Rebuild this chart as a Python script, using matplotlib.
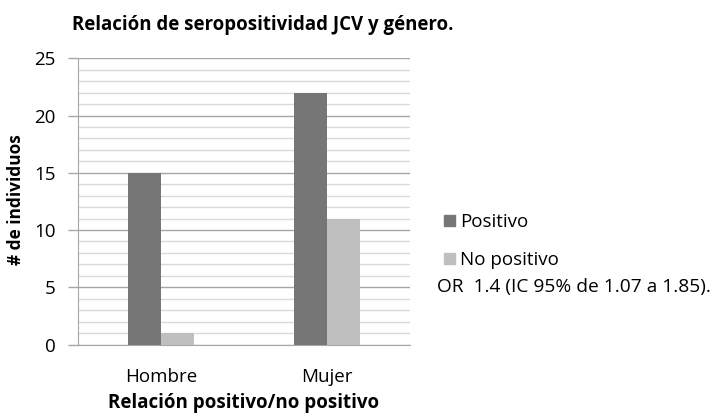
import matplotlib
matplotlib.use("Agg")
import matplotlib.pyplot as plt
from matplotlib.patches import Patch
from matplotlib.ticker import MultipleLocator
import numpy as np

categories = ["Hombre", "Mujer"]
series_names = ["Positivo", "No positivo"]
positivo = [15, 22]
no_positivo = [1, 11]
yticks = [0, 5, 10, 15, 20, 25]

title = "Relación de seropositividad JCV y género."
xlabel = "Relación positivo/no positivo"
ylabel = "# de individuos"
note = "OR  1.4 (IC 95% de 1.07 a 1.85)."

colors = ["#767676", "#bfbfbf"]

plt.rcParams['font.family'] = ['Open Sans', 'DejaVu Sans']

W, H = 719, 415
fig = plt.figure(figsize=(W/100, H/100), dpi=100)
ax = fig.add_axes([77.7/W, 1-344.5/H, (410-77.7)/W, (344.5-58.3)/H])

x = np.arange(len(categories))
bw = 0.2
ax.bar(x - bw/2, positivo, bw, color=colors[0], zorder=3)
ax.bar(x + bw/2, no_positivo, bw, color=colors[1], zorder=3)

ax.set_xlim(-0.5, 1.5)
ax.set_ylim(0, 25)
ax.set_yticks(yticks)
ax.yaxis.set_minor_locator(MultipleLocator(1))
ax.grid(axis='y', which='minor', color='#dadada', linewidth=1.0, zorder=0)
ax.grid(axis='y', which='major', color='#a6a6a6', linewidth=1.0, zorder=1)
ax.tick_params(axis='y', which='minor', length=0)
ax.tick_params(axis='y', which='major', length=7, width=1, color='#a6a6a6', labelsize=13.5, pad=9)
ax.set_xticks(x)
ax.set_xticklabels(categories)
ax.tick_params(axis='x', length=0, labelsize=13.5, pad=17)
for s in ['top', 'right']:
    ax.spines[s].set_visible(False)
ax.spines['left'].set_color('#a6a6a6')
ax.spines['bottom'].set_color('#a6a6a6')

ax.set_xlabel(xlabel, fontsize=13.5, fontweight='bold', labelpad=5)
ax.set_ylabel(ylabel, fontsize=12.4, fontweight='bold', va='center')
ax.yaxis.set_label_coords(16/W, 1-200/H, transform=fig.transFigure)

fig.text(72/W, 1-25/H, title, fontsize=13.4, fontweight='bold', va='center', ha='left')

handles = [Patch(color=c) for c in colors]
fig.legend(handles, series_names, loc='center left', bbox_to_anchor=(435/W, 1-241/H),
           frameon=False, fontsize=13.5, handlelength=0.55, handleheight=0.55,
           handletextpad=0.3, labelspacing=1.05, borderpad=0)
fig.text(436.7/W, 1-287/H, note, fontsize=13.8, va='center', ha='left')

fig.savefig("out.png", dpi=100)
